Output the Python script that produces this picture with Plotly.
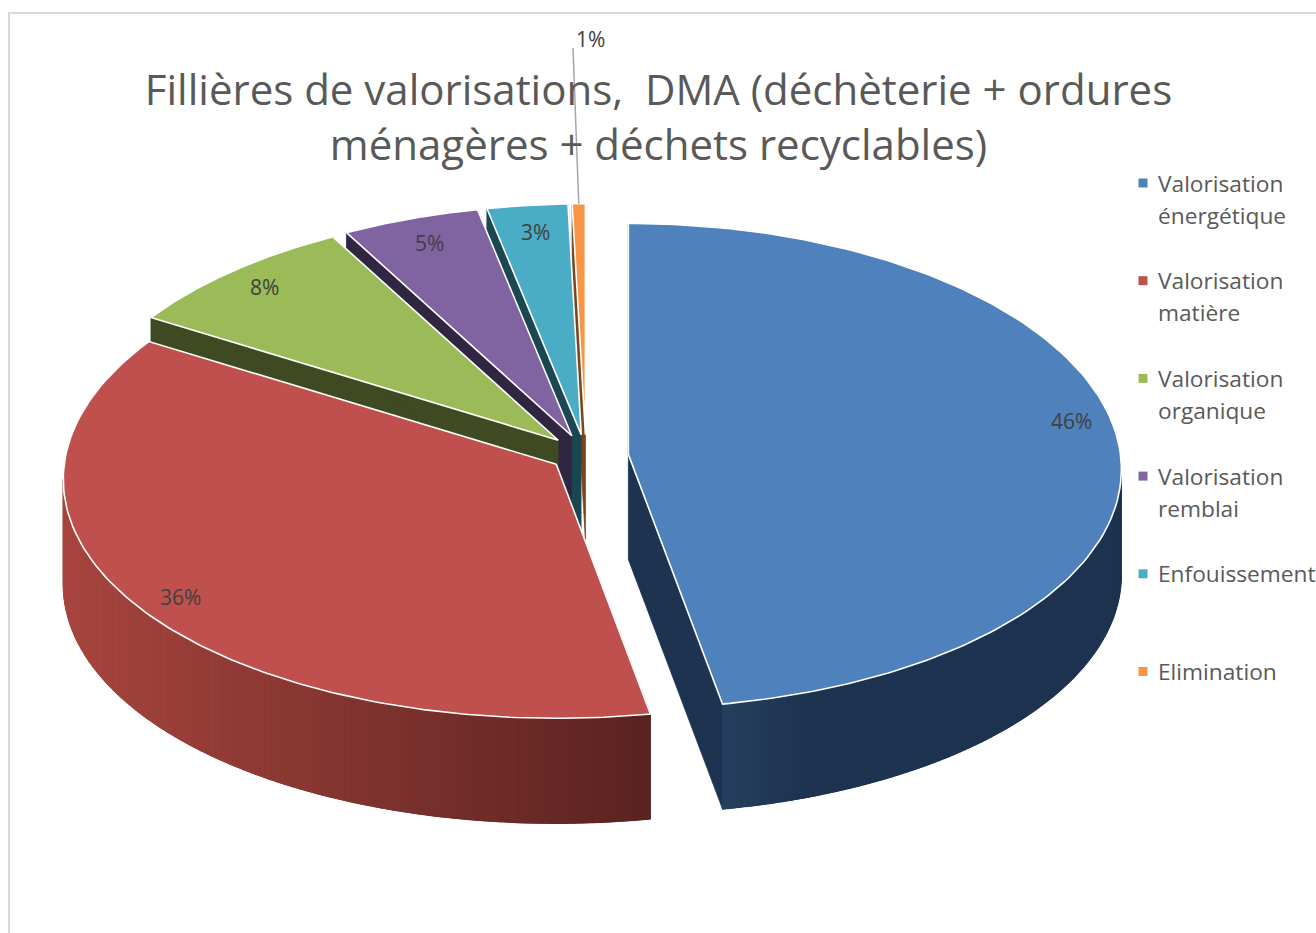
import numpy as np
import plotly.graph_objects as go

# ---- data ----
categories = ["Valorisation énergétique", "Valorisation matière", "Valorisation organique",
              "Valorisation remblai", "Enfouissement", "Elimination"]
legend_lines = [["Valorisation", "énergétique"], ["Valorisation", "matière"], ["Valorisation", "organique"],
                ["Valorisation", "remblai"], ["Enfouissement"], ["Elimination"]]
values = [46.35, 36.1, 8.4, 5.49, 3.15, 0.51]
title_text = "Fillières de valorisations,  DMA (déchèterie + ordures<br>ménagères + déchets recyclables)"

# ---- styles ----
top_colors = ["#4F81BD", "#C0504D", "#9BBB59", "#8064A2", "#4BACC6", "#F79646"]
wall_dark = ["#1D3350", "#5A2320", "#3F4A22", "#312642", "#1B4752", "#7A4518"]
wall_near = ["#25405F", "#A8453F", "#3F4A22", "#312642", "#1B4752", "#7A4518"]

# ---- projection (tilted pie seen in perspective) ----
CX, CY = 586, 458
A, B, BK, SAG = 493, 242.5, 11.5, 15
DEPTH = 105
EXPLODE = 0.087
WARP, WARP4 = 7.5, 1.5


def warp(t):
    return t - np.radians(WARP) * np.sin(2 * t) + np.radians(WARP4) * np.sin(4 * t)


def project(t, r=1.0):
    t = warp(np.asarray(t, dtype=float))
    x = A * r * np.sin(t)
    y = -(B - BK * np.cos(t)) * np.cos(t) * r + SAG * np.sin(t) ** 2 * r
    return x, y


edges = np.radians(np.concatenate([[0], np.cumsum(values)]) * 360 / sum(values))
slices = []
for i in range(len(values)):
    t0, t1 = edges[i], edges[i + 1]
    mid = (t0 + t1) / 2
    wm = warp(mid)
    ax = CX + EXPLODE * A * np.sin(wm)
    # the pull-out reads stronger towards the back of the pie than towards the viewer
    ay = CY - 0.08 * B * np.cos(wm) * (1.2 if np.cos(wm) > 0 else 0.45)
    slices.append(dict(t0=t0, t1=t1, mid=mid, ax=ax, ay=ay))


def hexrgb(h):
    return np.array([int(h[k:k + 2], 16) for k in (1, 3, 5)], dtype=float)


def mix(a, b, f):
    c = hexrgb(a) * (1 - f) + hexrgb(b) * f
    return "rgb(%d,%d,%d)" % tuple(c)


fig = go.Figure()


def poly(xs, ys, fill, line=None, width=0):
    fig.add_trace(go.Scatter(
        x=list(xs), y=list(ys), mode="lines", fill="toself", fillcolor=fill,
        line=dict(color=line or fill, width=width if line else 0.8),
        hoverinfo="skip", showlegend=False))


# painter's order: small back slices first, big front slices last
for i in [5, 4, 3, 2, 1, 0]:
    s = slices[i]
    ts = np.linspace(s["t0"], s["t1"], 160)
    px, py = project(ts)
    px, py = px + s["ax"], py + s["ay"]

    # cut faces
    for t in (s["t0"], s["t1"]):
        ex, ey = project(t)
        ex, ey = ex + s["ax"], ey + s["ay"]
        poly([s["ax"], ex, ex, s["ax"]], [s["ay"], ey, ey + DEPTH, s["ay"] + DEPTH], wall_dark[i])

    # outer wall (only the front half of the rim shows), shaded by horizontal position
    lo, hi = max(s["t0"], np.pi / 2), min(s["t1"], 3 * np.pi / 2)
    if hi > lo:
        tw = np.linspace(lo, hi, 120)
        wx, wy = project(tw)
        wx, wy = wx + s["ax"], wy + s["ay"]
        poly(list(wx) + list(wx[::-1]), list(wy) + list(wy[::-1] + DEPTH), wall_dark[i])
        bands = np.linspace(lo, hi, 90)
        span = 584.0 if i == 1 else 90.0
        for k in range(len(bands) - 1):
            seg = np.linspace(bands[k], bands[k + 1], 3)
            qx, qy = project(seg)
            qx, qy = qx + s["ax"], qy + s["ay"]
            xright = project(lo)[0] + s["ax"] if i == 1 else project(hi)[0] + s["ax"] + span
            f = float(np.clip((xright - qx.mean()) / span, 0, 1))
            col = mix(wall_dark[i], wall_near[i], f)
            poly(list(qx) + list(qx[::-1]), list(qy) + list(qy[::-1] + DEPTH), col, line=col, width=1.2)

    # top face
    poly([s["ax"]] + list(px) + [s["ax"]], [s["ay"]] + list(py) + [s["ay"]],
         top_colors[i], line="#FFFFFF", width=1.6)

# data labels, placed from each slice's own mid angle
LABEL_R = [0.91, 0.88, 0.88, 0.88, 0.88]
LABEL_NUDGE = [(0, 13), (-75, 33), (-13, 2), (0, 2), (2, 1)]
total = sum(values)
for i in range(5):
    s = slices[i]
    lx, ly = project(s["mid"], LABEL_R[i])
    fig.add_annotation(x=lx + s["ax"], y=ly + s["ay"], text="%d%%" % round(values[i] * 100 / total),
                       showarrow=False, xref="x", yref="y",
                       xshift=LABEL_NUDGE[i][0], yshift=LABEL_NUDGE[i][1],
                       font=dict(family="Open Sans", size=21, color="#404040"))

# smallest slice: leader line and outside label
s = slices[5]
rx, ry = project(s["mid"])
rx, ry = rx + s["ax"], ry + s["ay"]
fig.add_trace(go.Scatter(x=[rx, 573], y=[ry, 48], mode="lines",
                         line=dict(color="#A6A6A6", width=1.5), hoverinfo="skip", showlegend=False))
fig.add_annotation(x=590, y=39, text="%d%%" % round(values[5] * 100 / total), showarrow=False,
                   font=dict(family="Open Sans", size=21, color="#404040"))

# legend entries: one square marker and its text lines per category
LEG_MARK_X, LEG_TEXT_X, LEG_Y0, LEG_PITCH, LEG_LINE = 1143, 1156, 183, 97.7, 32
for i, lines in enumerate(legend_lines):
    y = LEG_Y0 + i * LEG_PITCH
    fig.add_trace(go.Scatter(x=[LEG_MARK_X], y=[y], mode="markers", name=categories[i], showlegend=False,
                             marker=dict(symbol="square", size=9, color=top_colors[i]), hoverinfo="name"))
    for j, line in enumerate(lines):
        fig.add_annotation(x=LEG_TEXT_X, y=y + j * LEG_LINE, text=line, showarrow=False, xanchor="left",
                           font=dict(family="Open Sans", size=22.7, color="#595959"))

fig.update_layout(
    width=1316, height=933, margin=dict(l=0, r=0, t=0, b=0, autoexpand=False),
    paper_bgcolor="#FFFFFF", plot_bgcolor="#FFFFFF", showlegend=False,
    xaxis=dict(range=[0, 1316], visible=False, fixedrange=True),
    yaxis=dict(range=[933, 0], visible=False, fixedrange=True),
    title=dict(text=title_text, x=658.5 / 1316, xanchor="center", y=1 - 105 / 933, yanchor="middle",
               font=dict(family="Open Sans", size=42, color="#595959")),
    shapes=[
        dict(type="line", xref="paper", yref="paper", x0=9 / 1316, x1=9 / 1316, y0=0, y1=1 - 13 / 933,
             line=dict(color="#D9D9D9", width=2)),
        dict(type="line", xref="paper", yref="paper", x0=8 / 1316, x1=1, y0=1 - 13 / 933, y1=1 - 13 / 933,
             line=dict(color="#D9D9D9", width=2)),
    ],
)

fig.write_html("out.html", config={"displayModeBar": False},
               post_script="document.body.style.margin='0';document.body.style.overflow='hidden';")
